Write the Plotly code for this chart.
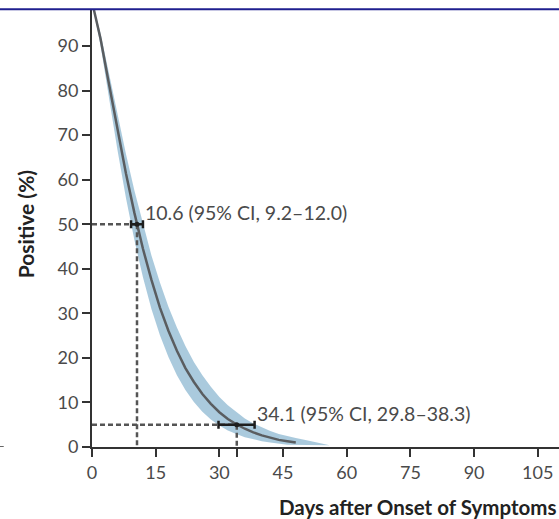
import plotly.graph_objects as go

# --- data ---
days = [0, 2, 4, 6, 8, 10, 12, 14, 16, 18, 20, 22, 24, 26, 28, 30, 32, 34, 36, 38, 40, 42, 44, 46, 48]
positive = [100, 91.7, 81.5, 71.1, 61.4, 52.5, 44.5, 37.5, 31.3, 26.1, 21.6, 17.7, 14.6, 11.9, 9.7,
            7.8, 6.3, 5.1, 4.1, 3.3, 2.6, 2.1, 1.6, 1.3, 1.0]

upper_days = [0, 2, 4, 6, 8, 10, 12, 14, 16, 18, 20, 22, 24, 26, 28, 30, 32, 34, 36, 38, 40,
              42, 44, 46, 48, 50, 52, 54, 56]
upper_pos = [100, 92.9, 83.9, 74.7, 65.8, 57.5, 49.9, 43.0, 36.9, 31.5, 26.8, 22.7, 19.1, 16.1,
             13.5, 11.2, 9.4, 7.8, 6.4, 5.3, 4.4, 3.6, 2.9, 2.4, 2.0, 1.6, 1.2, 0.8, 0.4]

lower_days = [0, 2, 4, 6, 8, 10, 12, 14, 16, 18, 20, 22, 24, 26, 28, 30, 32, 34, 36, 38, 40,
              42, 44, 46]
lower_pos = [100, 90.2, 78.3, 66.7, 55.9, 46.4, 38.1, 31.0, 25.1, 20.2, 16.1, 12.8, 10.1, 7.9,
             6.2, 4.8, 3.7, 2.9, 2.2, 1.7, 1.3, 1.0, 0.7, 0.5]

marker_levels = [50, 5]
marker_days = [10.6, 34.1]
ci_low = [9.2, 29.8]
ci_high = [12.0, 38.3]
marker_labels = ["10.6 (95% CI, 9.2–12.0)", "34.1 (95% CI, 29.8–38.3)"]

x_ticks = [0, 15, 30, 45, 60, 75, 90, 105]
y_ticks = [0, 10, 20, 30, 40, 50, 60, 70, 80, 90]

FONT = "Lato"
TXT = "#4a4a4a"
AX = "#333333"

fig = go.Figure()

# confidence band
fig.add_trace(go.Scatter(
    x=upper_days + lower_days[::-1],
    y=upper_pos + lower_pos[::-1],
    fill="toself", fillcolor="rgba(155,193,215,0.85)",
    line=dict(width=0), mode="lines", hoverinfo="skip", showlegend=False))

# median curve
fig.add_trace(go.Scatter(x=days, y=positive, mode="lines",
                         line=dict(color="#5a5d60", width=2.5), showlegend=False))

# dashed reference lines
for lvl, d in zip(marker_levels, marker_days):
    fig.add_trace(go.Scatter(x=[0, d], y=[lvl, lvl], mode="lines",
                             line=dict(color="#555555", width=2.5, dash="5px,3px"),
                             showlegend=False))
    fig.add_trace(go.Scatter(x=[d, d], y=[lvl, 0], mode="lines",
                             line=dict(color="#555555", width=2.5, dash="5px,3px"),
                             showlegend=False))

# CI error bars
fig.add_trace(go.Scatter(
    x=marker_days, y=marker_levels, mode="markers",
    marker=dict(color="#1e1e1e", size=5),
    error_x=dict(type="data", symmetric=False,
                 array=[h - m for h, m in zip(ci_high, marker_days)],
                 arrayminus=[m - l for m, l in zip(marker_days, ci_low)],
                 color="#1e1e1e", thickness=2.5, width=4),
    showlegend=False))

annotations = []
for lvl, h, lab in zip(marker_levels, ci_high, marker_labels):
    annotations.append(dict(x=h, y=lvl, xref="x", yref="y", text=lab, showarrow=False,
                            xanchor="left", yanchor="bottom", xshift=0, yshift=-2,
                            font=dict(family=FONT, size=19.5, color=TXT)))

annotations.append(dict(x=0.998, y=-0.137, xref="paper", yref="paper",
                        text="<b>Days after Onset of Symptoms</b>", showarrow=False,
                        xanchor="right", yanchor="middle",
                        font=dict(family=FONT, size=20.5, color="#222222")))
annotations.append(dict(x=-0.143, y=0.51, xref="paper", yref="paper",
                        text="<b>Positive (%)</b>", showarrow=False, textangle=-90,
                        xanchor="center", yanchor="middle",
                        font=dict(family=FONT, size=21, color="#222222")))

# tick positions, with an extra tick mark under the 34.1-day marker
xt_vals = sorted(x_ticks + [marker_days[1]])
xt_text = [str(v) if v in x_ticks else "" for v in xt_vals]

fig.update_layout(
    width=559, height=519,
    margin=dict(l=92, r=0, t=10, b=72),
    paper_bgcolor="white", plot_bgcolor="white",
    annotations=annotations,
    shapes=[
        dict(type="line", xref="paper", yref="paper", x0=-0.21, x1=1.01, y0=1.002, y1=1.002,
             line=dict(color="#1f1f8f", width=2)),
        dict(type="line", xref="paper", yref="y", x0=-0.197, x1=-0.189, y0=0, y1=0,
             line=dict(color="#333333", width=1.5)),
    ],
    xaxis=dict(range=[0, 110], tickvals=xt_vals, ticktext=xt_text, ticks="outside",
               ticklen=8, tickwidth=2, tickcolor=AX, showline=True, linewidth=2,
               linecolor=AX, showgrid=False, zeroline=False,
               tickfont=dict(family=FONT, size=18, color=TXT)),
    yaxis=dict(range=[0, 98.1], tickvals=y_ticks, ticks="outside", ticklen=8, tickwidth=2,
               tickcolor=AX, showline=True, linewidth=2, linecolor=AX,
               showgrid=False, zeroline=False,
               tickfont=dict(family=FONT, size=18, color=TXT)),
)

fig.write_html("out.html")
